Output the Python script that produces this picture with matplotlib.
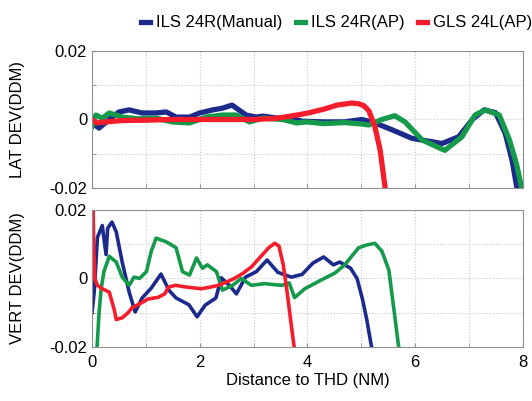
import matplotlib
matplotlib.use("Agg")
import matplotlib.pyplot as plt
from matplotlib.ticker import MultipleLocator

plt.rcParams["font.family"] = ["Liberation Sans", "DejaVu Sans"]

# --- lateral deviation (top panel) ---
lat_manual_x = [0, 0.13, 0.32, 0.5, 0.69, 0.93, 1.19, 1.38, 1.56, 1.81, 2.0, 2.24, 2.42, 2.6, 2.68,
                2.86, 3.05, 3.17, 3.43, 3.67, 3.9, 4.3, 4.69, 5.01, 5.25, 5.57, 5.94, 6.5, 6.81,
                7.06, 7.28, 7.49, 7.67, 7.8, 7.9]
lat_manual_y = [-0.001, -0.0025, 0.0, 0.0022, 0.0028, 0.0019, 0.0019, 0.0022, 0.0007, 0.0007, 0.0019,
                0.0028, 0.0033, 0.0042, 0.0033, 0.0013, 0.0007, 0.001, 0.0004, 0.0004, -0.0005,
                -0.0007, -0.0007, 0.0, -0.001, -0.003, -0.0055, -0.007, -0.005, 0.0, 0.0028, 0.002,
                -0.004, -0.012, -0.021]

lat_ap_x = [0, 0.07, 0.19, 0.32, 0.56, 0.85, 1.19, 1.49, 1.81, 2.12, 2.42, 2.68, 2.92, 3.17, 3.54,
            3.8, 3.99, 4.3, 4.69, 5.0, 5.14, 5.38, 5.62, 5.81, 6.13, 6.55, 6.87, 7.11, 7.3, 7.56,
            7.75, 7.88, 7.99]
lat_ap_y = [-0.002, 0.0013, 0.0004, 0.0019, 0.0007, 0.0002, 0.0004, -0.0007, -0.001, 0.0007, 0.0013,
            0.0013, -0.0007, 0.0004, 0.0, -0.001, -0.0007, -0.0012, -0.0009, -0.0013, -0.0016, 0.0,
            0.0011, -0.0007, -0.006, -0.009, -0.005, 0.0013, 0.0028, 0.0013, -0.006, -0.013, -0.021]

lat_gls_x = [0, 0.09, 0.26, 0.56, 1.0, 1.5, 2.0, 2.5, 3.0, 3.4, 3.65, 3.91, 4.04, 4.3, 4.55, 4.82,
             4.95, 5.05, 5.14, 5.25, 5.35, 5.45]
lat_gls_y = [0, -0.001, -0.0007, -0.0003, -0.0002, 0.0, 0.0, 0.0, 0.0, 0.0003, 0.0009, 0.0016, 0.002,
             0.003, 0.0042, 0.0048, 0.0046, 0.004, 0.0025, -0.002, -0.009, -0.021]

# --- vertical deviation (bottom panel) ---
vert_manual_x = [0.0, 0.04, 0.1, 0.19, 0.26, 0.29, 0.37, 0.45, 0.56, 0.69, 0.8, 0.93, 1.1, 1.28, 1.43,
                 1.56, 1.8, 1.95, 2.1, 2.3, 2.4, 2.55, 2.68, 2.85, 3.05, 3.25, 3.45, 3.7, 3.9, 4.1,
                 4.3, 4.48, 4.6, 4.8, 4.92, 5.02, 5.1, 5.2]
vert_manual_y = [-0.01, -0.004, 0.012, 0.0155, 0.007, 0.0147, 0.0165, 0.0136, 0.0048, -0.004, -0.0098,
                 -0.0057, -0.0028, 0.0013, -0.0035, -0.0057, -0.0077, -0.0112, -0.0078, -0.0057,
                 0.0002, -0.002, -0.0045, 0.0004, 0.002, 0.0054, 0.0018, 0.0004, 0.0012, 0.0045,
                 0.0063, 0.004, 0.0048, 0.003, 0.0, -0.006, -0.012, -0.021]

vert_ap_x = [0.09, 0.13, 0.17, 0.22, 0.32, 0.45, 0.56, 0.69, 0.78, 0.88, 1.01, 1.1, 1.19, 1.38, 1.56,
             1.68, 1.81, 1.94, 2.05, 2.14, 2.31, 2.42, 2.61, 2.77, 2.96, 3.2, 3.52, 3.66, 3.76, 3.95,
             4.26, 4.51, 4.69, 4.95, 5.1, 5.25, 5.38, 5.51, 5.62, 5.70]
vert_ap_y = [-0.021, -0.01, -0.003, 0.002, 0.0065, 0.0048, 0.0004, -0.002, 0.0004, 0.0, 0.002, 0.008,
             0.0118, 0.0107, 0.009, 0.002, 0.001, 0.006, 0.003, 0.004, 0.002, -0.0034, -0.002, 0.0,
             -0.002, -0.0015, -0.002, -0.0013, -0.0056, -0.003, -0.0004, 0.0016, 0.004, 0.009,
             0.0098, 0.0103, 0.008, 0.0025, -0.011, -0.021]

vert_gls_x = [0.02, 0.03, 0.05, 0.1, 0.19, 0.32, 0.41, 0.45, 0.56, 0.67, 0.74, 0.93, 1.04, 1.23, 1.35,
              1.42, 1.55, 1.75, 2.03, 2.2, 2.35, 2.5, 2.64, 2.8, 2.96, 3.12, 3.28, 3.39, 3.47, 3.55,
              3.63, 3.71, 3.76]
vert_gls_y = [0.021, 0.01, 0.0, -0.002, -0.003, -0.004, -0.009, -0.012, -0.0115, -0.01, -0.0086,
              -0.007, -0.006, -0.0055, -0.0045, -0.0025, -0.002, -0.0025, -0.003, -0.0025, -0.002,
              -0.001, 0.0, 0.0015, 0.0034, 0.0062, 0.009, 0.0103, 0.0095, 0.004, -0.005, -0.015,
              -0.021]

labels = ["ILS 24R(Manual)", "ILS 24R(AP)", "GLS 24L(AP)"]
colors = ["#1c2a8c", "#15994a", "#f51d2c"]


def style_axes(ax):
    ax.set_xlim(0, 8)
    ax.set_ylim(-0.02, 0.02)
    ax.xaxis.set_major_locator(MultipleLocator(2))
    ax.xaxis.set_minor_locator(MultipleLocator(1))
    ax.set_yticks([-0.02, 0, 0.02])
    ax.set_yticklabels(["-0.02", "0", "0.02"])
    ax.yaxis.set_minor_locator(MultipleLocator(0.01))
    ax.grid(which="both", linestyle=":", color="#c8c8c8", linewidth=0.8)
    ax.tick_params(which="both", direction="in", length=3, color="#909090", labelsize=12)
    ax.tick_params(axis="x", pad=6)
    for sp in ax.spines.values():
        sp.set_color("#909090")


fig = plt.figure(figsize=(5.32, 4.01), dpi=100)
ax_lat = fig.add_axes([0.173, 0.531, 0.810, 0.342])
ax_vert = fig.add_axes([0.173, 0.135, 0.810, 0.341])

lat_data = [(lat_manual_x, lat_manual_y), (lat_ap_x, lat_ap_y), (lat_gls_x, lat_gls_y)]
vert_data = [(vert_manual_x, vert_manual_y), (vert_ap_x, vert_ap_y), (vert_gls_x, vert_gls_y)]

for (x, y), c, lab in zip(lat_data, colors, labels):
    ax_lat.plot(x, y, color=c, linewidth=3.8, label=lab, solid_joinstyle="round")
for (x, y), c in zip(vert_data, colors):
    ax_vert.plot(x, y, color=c, linewidth=2.6, solid_joinstyle="round")

style_axes(ax_lat)
style_axes(ax_vert)
ax_lat.tick_params(labelbottom=False)

ax_lat.set_ylabel("LAT DEV(DDM)", fontsize=12)
ax_vert.set_ylabel("VERT DEV(DDM)", fontsize=12)
ax_vert.set_xlabel("Distance to THD (NM)", fontsize=12, labelpad=2)
ax_lat.yaxis.set_label_coords(-0.155, 0.5)
ax_vert.yaxis.set_label_coords(-0.155, 0.5)

ax_lat.legend(loc="lower center", bbox_to_anchor=(0.567, 1.15), ncol=3, frameon=False,
              fontsize=12, handlelength=0.55, handletextpad=0.35, columnspacing=0.8,
              borderaxespad=0, borderpad=0)

fig.savefig("out.png", dpi=100, facecolor="white")
